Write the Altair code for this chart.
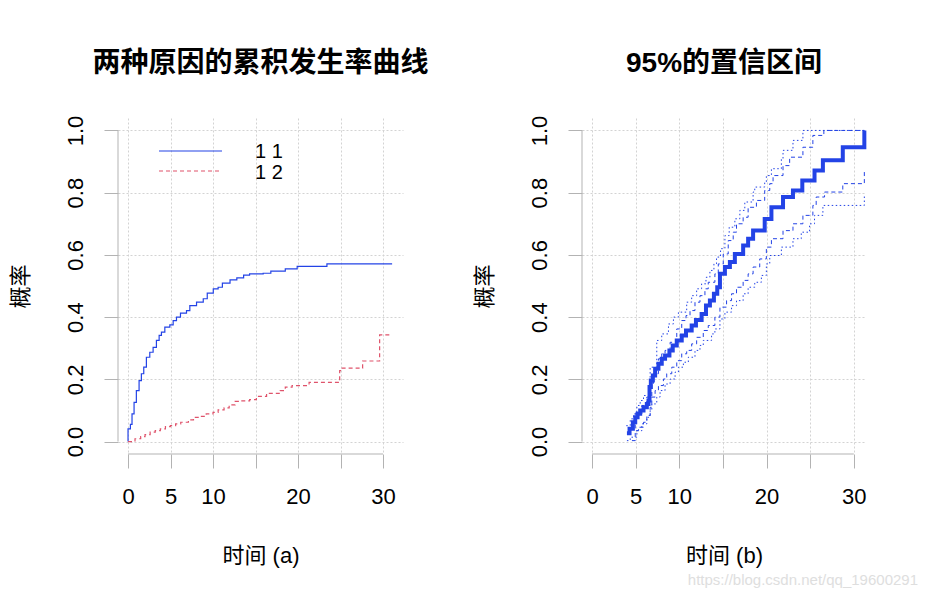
import altair as alt
import pandas as pd

FONT = "Liberation Sans, Arial, Noto Sans CJK SC, sans-serif"
BLUE = "#2343E6"
RED = "#DF536B"
GRID = "#d3d3d3"
AXIS = "#b3b3b3"

# ---------------- panel (a): cumulative incidence of two causes ----------------
c1_time = [0, 0, 0.28, 0.47, 0.71, 0.98, 1.3, 1.57, 1.85, 2.16, 2.56, 2.95, 3.34, 3.66, 3.93,
           4.33, 4.92, 5.31, 5.7, 6.17, 6.88, 7.27, 8.06, 8.85, 9.32, 10.03, 10.6, 11.1, 12.0,
           12.8, 13.6, 14.3, 15.9, 16.8, 18.5, 19.9, 23.4, 31.07]
c1_prob = [0, 0.041, 0.055, 0.089, 0.126, 0.164, 0.196, 0.218, 0.239, 0.271, 0.287, 0.303, 0.325,
           0.341, 0.352, 0.368, 0.375, 0.389, 0.40, 0.413, 0.421, 0.437, 0.448, 0.459, 0.477,
           0.491, 0.496, 0.509, 0.520, 0.526, 0.535, 0.539, 0.541, 0.548, 0.555, 0.563, 0.571, 0.571]

c2_time = [0, 0.82, 1.49, 2.0, 2.6, 3.2, 3.8, 4.4, 4.98, 5.6, 6.2, 7.1, 7.7, 8.4, 9.2, 10.0, 10.6,
           11.3, 11.9, 12.6, 13.3, 14.3, 15.1, 16.3, 17.9, 18.5, 19.3, 21.3, 24.9, 25.1, 27.6,
           29.6, 31.0]
c2_prob = [0, 0.009, 0.016, 0.022, 0.03, 0.035, 0.041, 0.048, 0.051, 0.057, 0.062, 0.07, 0.078,
           0.081, 0.089, 0.094, 0.102, 0.108, 0.118, 0.129, 0.131, 0.135, 0.145, 0.155, 0.164,
           0.175, 0.18, 0.19, 0.228, 0.236, 0.259, 0.343, 0.343]

groups = ["1 1", "1 2"]

# ---------------- panel (b): estimate with 95% confidence limits ----------------
est_time = [4.00, 4.30, 4.68, 4.95, 5.22, 5.52, 5.90, 6.28, 6.47, 6.59, 6.74, 6.97, 7.23, 7.61,
            7.99, 8.37, 8.87, 9.25, 9.71, 10.28, 10.77, 11.42, 11.91, 12.56, 13.06, 13.51, 13.97,
            14.35, 14.66, 15.23, 15.80, 16.37, 17.32, 17.89, 18.46, 19.79, 20.56, 21.89, 23.03,
            24.10, 25.50, 26.46, 28.74, 31.21]
est_prob = [0.027, 0.041, 0.062, 0.078, 0.089, 0.100, 0.110, 0.121, 0.132, 0.175, 0.196, 0.212,
            0.234, 0.250, 0.266, 0.277, 0.293, 0.309, 0.325, 0.341, 0.357, 0.373, 0.391, 0.410,
            0.437, 0.453, 0.475, 0.496, 0.539, 0.561, 0.577, 0.603, 0.630, 0.652, 0.678, 0.715,
            0.753, 0.786, 0.807, 0.839, 0.871, 0.904, 0.946, 1.0]

uo_time = [3.92, 4.38, 4.76, 5.14, 5.52, 5.90, 6.66, 7.42, 7.99, 8.76, 9.33, 9.90, 10.85, 11.42,
           11.99, 12.56, 13.06, 13.51, 13.97, 14.27, 14.73, 15.23, 15.72, 16.37, 16.94, 17.51,
           18.46, 18.65, 19.79, 19.98, 20.56, 21.70, 21.89, 23.03, 24.17, 31.21]
uo_prob = [0.051, 0.073, 0.089, 0.116, 0.132, 0.148, 0.239, 0.325, 0.346, 0.378, 0.400, 0.416,
           0.448, 0.469, 0.491, 0.507, 0.528, 0.550, 0.571, 0.593, 0.620, 0.662, 0.689, 0.716,
           0.743, 0.770, 0.802, 0.818, 0.834, 0.855, 0.877, 0.909, 0.936, 0.968, 1.0, 1.0]

ui_time = [4.19, 4.95, 5.71, 6.28, 6.85, 7.04, 7.61, 7.99, 8.37, 8.95, 9.71, 10.28, 10.77, 11.23,
           11.80, 12.37, 12.94, 13.32, 14.08, 14.47, 15.04, 15.61, 16.18, 16.56, 17.32, 17.89,
           18.84, 19.79, 20.37, 20.75, 21.89, 22.65, 24.17, 25.31, 26.57, 31.21]
ui_prob = [0.041, 0.089, 0.116, 0.143, 0.185, 0.218, 0.266, 0.282, 0.293, 0.319, 0.362, 0.389,
           0.405, 0.421, 0.448, 0.469, 0.491, 0.512, 0.539, 0.571, 0.603, 0.646, 0.673, 0.700,
           0.721, 0.753, 0.775, 0.807, 0.829, 0.855, 0.887, 0.914, 0.946, 0.984, 1.0, 1.0]

li_time = [4.57, 4.95, 5.33, 5.90, 6.28, 6.66, 6.85, 7.23, 7.61, 8.18, 8.56, 9.14, 9.71, 10.28,
           10.85, 11.42, 11.99, 12.75, 13.32, 14.08, 14.66, 15.42, 15.99, 16.56, 17.32, 17.89,
           18.46, 19.22, 19.98, 20.56, 21.89, 23.03, 24.17, 25.31, 25.69, 26.65, 28.74, 31.21]
li_prob = [0.003, 0.035, 0.046, 0.062, 0.084, 0.110, 0.143, 0.164, 0.180, 0.201, 0.218, 0.239,
           0.260, 0.282, 0.293, 0.314, 0.335, 0.357, 0.373, 0.400, 0.432, 0.453, 0.475, 0.496,
           0.518, 0.539, 0.561, 0.587, 0.625, 0.652, 0.678, 0.700, 0.727, 0.759, 0.786, 0.802,
           0.829, 0.871]

lo_time = [4.00, 4.38, 5.14, 5.71, 6.28, 6.66, 6.85, 7.42, 7.80, 8.37, 8.95, 9.52, 9.90, 10.47,
           11.04, 11.80, 12.37, 12.75, 13.70, 14.08, 14.66, 15.23, 15.99, 16.56, 17.32, 17.89,
           18.65, 19.41, 19.98, 20.37, 21.70, 23.03, 23.98, 24.93, 25.50, 26.46, 31.21]
lo_prob = [0.003, 0.014, 0.035, 0.057, 0.078, 0.100, 0.121, 0.143, 0.164, 0.185, 0.201, 0.223,
           0.239, 0.255, 0.271, 0.293, 0.309, 0.325, 0.346, 0.362, 0.394, 0.416, 0.437, 0.453,
           0.475, 0.496, 0.512, 0.534, 0.571, 0.598, 0.625, 0.652, 0.673, 0.700, 0.727, 0.759,
           0.795]

x_ticks = [0, 5, 10, 15, 20, 25, 30]
y_ticks = [0, 0.2, 0.4, 0.6, 0.8, 1.0]
watermark = ["https://blog.csdn.net/qq_19600291"]


def series(t, p, name):
    return pd.DataFrame({"t": t, "p": p, "grp": name, "i": range(len(t))})


df_a = pd.concat([series(c1_time, c1_prob, groups[0]), series(c2_time, c2_prob, groups[1])])
df_est = series(est_time, est_prob, "est")
df_uo = series(uo_time, uo_prob, "uo")
df_ui = series(ui_time, ui_prob, "ui")
df_li = series(li_time, li_prob, "li")
df_lo = series(lo_time, lo_prob, "lo")
one = pd.DataFrame({"k": [0]})
legend_df = pd.DataFrame({"grp": groups})
wm_df = pd.DataFrame({"txt": watermark})

W_A, W_B, H = 285, 284, 336
y_scale = alt.Scale(domain=[-0.04, 1.04], nice=False, zero=False)


def x_enc(domain, title):
    return alt.X(
        "t:Q",
        scale=alt.Scale(domain=domain, nice=False, zero=False),
        axis=alt.Axis(values=x_ticks, grid=True, title=title,
                      labelExpr="datum.value == 15 || datum.value == 25 ? '' : datum.label",
                      labelPadding=18, titlePadding=38, labelFlush=False),
    )


y_enc = alt.Y(
    "p:Q", scale=y_scale,
    axis=alt.Axis(values=y_ticks, grid=True, title="概率", format=".1f",
                  labelAngle=-90, labelAlign="center", labelBaseline="bottom",
                  labelPadding=17, titlePadding=32, labelFlush=False),
)


def axis_lines(xmax_tick):
    yl = alt.Chart(one).mark_rule(color=AXIS, strokeWidth=1).encode(
        x=alt.value(0), y=alt.datum(0), y2=alt.datum(1))
    xl = alt.Chart(one).mark_rule(color=AXIS, strokeWidth=1).encode(
        y=alt.value(H), x=alt.datum(0), x2=alt.datum(xmax_tick))
    return yl, xl


color_scale = alt.Scale(domain=groups, range=[BLUE, RED])
dash_scale = alt.Scale(domain=groups, range=[[1, 0], [4, 3]])

# ----- left panel -----
curves_a = alt.Chart(df_a).mark_line(interpolate="step-after", strokeWidth=1.2).encode(
    x=x_enc([-1.18, 32.35], "时间 (a)"),
    y=y_enc,
    color=alt.Color("grp:N", scale=color_scale, legend=None),
    strokeDash=alt.StrokeDash("grp:N", scale=dash_scale, legend=None),
    order="i:Q",
    detail="grp:N",
)
yl_a, xl_a = axis_lines(30)

leg_lines = []
leg_texts = []
for g, yy, ty in zip(groups, [33, 53], [34, 55]):
    leg_lines.append(
        alt.Chart(legend_df).transform_filter(alt.datum.grp == g)
        .mark_rule(strokeWidth=1.2)
        .encode(x=alt.value(41), x2=alt.value(104), y=alt.value(yy),
                color=alt.Color("grp:N", scale=color_scale, legend=None),
                strokeDash=alt.StrokeDash("grp:N", scale=dash_scale, legend=None))
    )
    leg_texts.append(
        alt.Chart(legend_df).transform_filter(alt.datum.grp == g)
        .mark_text(align="left", baseline="middle", fontSize=20, font=FONT, color="black")
        .encode(x=alt.value(137), y=alt.value(ty), text="grp:N")
    )

left = alt.layer(curves_a, yl_a, xl_a, *leg_lines, *leg_texts).properties(
    width=W_A, height=H,
    title=alt.TitleParams("两种原因的累积发生率曲线", fontSize=28, fontWeight="bold", font=FONT,
                          anchor="middle", frame="group", offset=37, color="black"),
)

# ----- right panel -----
xb = x_enc([-1.15, 31.4], "时间 (b)")


def band(df, dash, width=1.0):
    return alt.Chart(df).mark_line(interpolate="step-after", strokeWidth=width, color=BLUE,
                                   strokeDash=dash).encode(x=xb, y=y_enc, order="i:Q")


est_line = alt.Chart(df_est).mark_line(interpolate="step-after", strokeWidth=4, color=BLUE).encode(
    x=xb, y=y_enc, order="i:Q")
yl_b, xl_b = axis_lines(30)
wm = alt.Chart(wm_df).mark_text(align="right", baseline="middle", fontSize=15, font=FONT,
                                color="#dedede").encode(
    x=alt.value(336), y=alt.value(462), text="txt:N")

right = alt.layer(
    band(df_uo, [1.5, 2.5]), band(df_lo, [1.5, 2.5]),
    band(df_ui, [4, 3]), band(df_li, [4, 3]),
    est_line, yl_b, xl_b, wm,
).properties(
    width=W_B, height=H,
    title=alt.TitleParams("95%的置信区间", fontSize=28, fontWeight="bold", font=FONT,
                          anchor="middle", frame="group", offset=37, color="black"),
)

chart = alt.hconcat(left, right, spacing=179, bounds="flush").properties(
    padding={"left": 9, "top": 50, "right": 0, "bottom": 0},
    background="white",
).configure_view(stroke=None).configure_axis(
    domain=False,
    tickColor=AXIS, tickSize=14, tickWidth=1,
    labelFont=FONT, labelFontSize=22, labelColor="black",
    titleFont=FONT, titleFontSize=22, titleFontWeight="normal", titleColor="black",
    gridColor=GRID, gridDash=[2, 2], gridWidth=1,
)

chart.save("out.html", embed_options={"renderer": "svg", "actions": False})
